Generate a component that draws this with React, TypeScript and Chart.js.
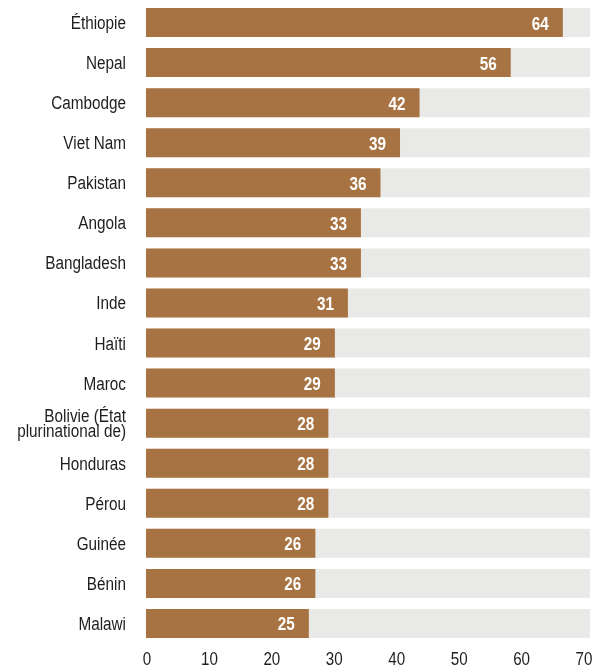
import React, { useEffect, useRef } from "react";
import { Chart, registerables } from "chart.js";

Chart.register(...registerables);

const categories: (string | string[])[] = [
  "Éthiopie",
  "Nepal",
  "Cambodge",
  "Viet Nam",
  "Pakistan",
  "Angola",
  "Bangladesh",
  "Inde",
  "Haïti",
  "Maroc",
  ["Bolivie (État", "plurinational de)"],
  "Honduras",
  "Pérou",
  "Guinée",
  "Bénin",
  "Malawi",
];
const values: number[] = [64, 56, 42, 39, 36, 33, 33, 31, 29, 29, 28, 28, 28, 26, 26, 25];
const tickValues: number[] = [0, 10, 20, 30, 40, 50, 60, 70];

const BAR_SCALE_MAX = 68.17;
const TICK_SCALE_MIN = -0.16;
const TICK_SCALE_MAX = 70.96;

const FONT = "'Liberation Sans', Arial, sans-serif";
const BROWN = "#A87342";
const TRACK = "#E9E9E7";
const TEXT = "#1e1e1e";

function drawCondensed(
  ctx: CanvasRenderingContext2D,
  text: string,
  x: number,
  y: number,
  align: CanvasTextAlign,
  sx: number
) {
  ctx.save();
  ctx.translate(x, y);
  ctx.scale(sx, 1);
  ctx.textAlign = align;
  ctx.textBaseline = "alphabetic";
  ctx.fillText(text, 0, 0);
  ctx.restore();
}

const textPlugin = {
  id: "condensedTexts",
  afterDatasetsDraw(chart: any) {
    const ctx: CanvasRenderingContext2D = chart.ctx;
    const yScale = chart.scales.y;
    const xTicks = chart.scales.x2;
    const area = chart.chartArea;

    // value labels inside bars
    const meta = chart.getDatasetMeta(0);
    ctx.save();
    ctx.fillStyle = "#ffffff";
    ctx.font = `bold 18px ${FONT}`;
    meta.data.forEach((el: any, i: number) => {
      drawCondensed(ctx, String(values[i]), el.x - 14, el.y + 7, "right", 0.85);
    });
    ctx.restore();

    // category labels
    ctx.save();
    ctx.fillStyle = TEXT;
    ctx.font = `18px ${FONT}`;
    const lineGap = 15.5;
    categories.forEach((lab, i) => {
      const cy = yScale.getPixelForValue(i);
      const lines = Array.isArray(lab) ? lab : [lab];
      const n = lines.length;
      lines.forEach((line, k) => {
        const y = cy + 6.5 + (k - (n - 1) / 2) * lineGap;
        drawCondensed(ctx, line, area.left - 20, y, "right", 0.85);
      });
    });
    ctx.restore();

    // x tick labels
    ctx.save();
    ctx.fillStyle = TEXT;
    ctx.font = `18.5px ${FONT}`;
    tickValues.forEach((v) => {
      const x = xTicks.getPixelForValue(v);
      drawCondensed(ctx, String(v), x, 665, "center", 0.82);
    });
    ctx.restore();
  },
};

export default function App() {
  const ref = useRef<HTMLCanvasElement | null>(null);

  useEffect(() => {
    if (!ref.current) return;
    const chart = new Chart(ref.current, {
      type: "bar",
      data: {
        labels: categories,
        datasets: [
          {
            data: values,
            backgroundColor: BROWN,
            xAxisID: "x",
            grouped: false,
            barPercentage: 0.724,
            categoryPercentage: 1,
          } as any,
          {
            data: values.map(() => BAR_SCALE_MAX),
            backgroundColor: TRACK,
            xAxisID: "x",
            grouped: false,
            barPercentage: 0.724,
            categoryPercentage: 1,
          } as any,
        ],
      },
      options: {
        indexAxis: "y",
        animation: false,
        responsive: true,
        maintainAspectRatio: false,
        layout: { padding: { top: 2.5, right: 15, left: 0, bottom: 0 } },
        plugins: {
          legend: { display: false },
          tooltip: { enabled: false },
        },
        scales: {
          x: {
            display: false,
            min: 0,
            max: BAR_SCALE_MAX,
          },
          x2: {
            type: "linear",
            position: "bottom",
            min: TICK_SCALE_MIN,
            max: TICK_SCALE_MAX,
            grid: { display: false, drawTicks: false },
            border: { display: false },
            afterBuildTicks: (s: any) => {
              s.ticks = tickValues.map((v) => ({ value: v }));
            },
            afterFit: (s: any) => {
              s.height = 27.5;
              s.paddingLeft = 0;
              s.paddingRight = 0;
              s.paddingTop = 0;
              s.paddingBottom = 0;
            },
            ticks: { display: false },
          },
          y: {
            grid: { display: false, drawTicks: false },
            border: { display: false },
            afterFit: (s: any) => {
              s.width = 146;
              s.paddingLeft = 0;
              s.paddingRight = 0;
              s.paddingTop = 0;
              s.paddingBottom = 0;
            },
            ticks: { display: false },
          },
        },
      } as any,
      plugins: [textPlugin],
    });
    return () => chart.destroy();
  }, []);

  return (
    <div style={{ position: "absolute", left: 0, top: 0, width: 605, height: 671 }}>
      <canvas ref={ref} />
    </div>
  );
}
